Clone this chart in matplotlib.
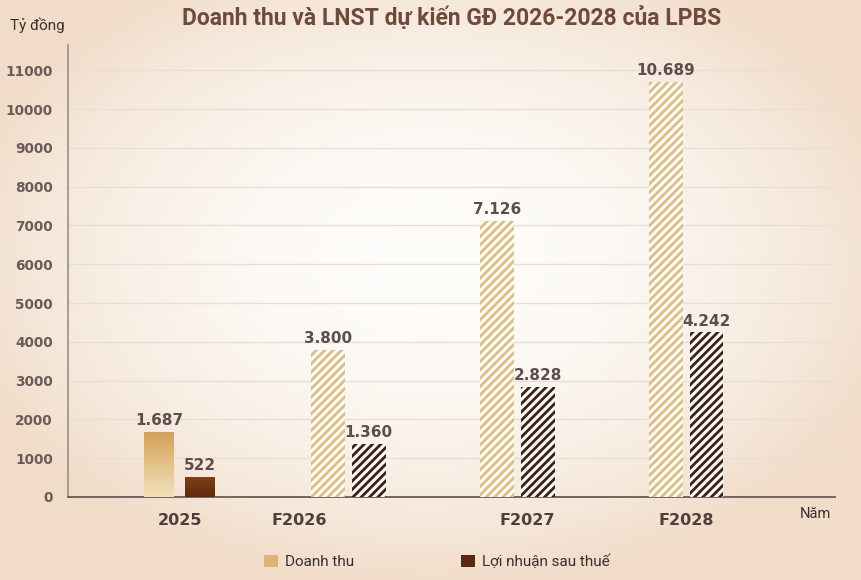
import numpy as np
import matplotlib
matplotlib.use("Agg")
import matplotlib.pyplot as plt
from matplotlib.patches import Patch
from matplotlib.colors import LinearSegmentedColormap

categories = ["2025", "F2026", "F2027", "F2028"]
doanh_thu = [1687, 3800, 7126, 10689]
lnst = [522, 1360, 2828, 4242]
forecast = [False, True, True, True]
yticks = list(range(0, 11001, 1000))
series_names = ["Doanh thu", "Lợi nhuận sau thuế"]

def fmt(v):
    return f"{v:,}".replace(",", ".")

plt.rcParams['font.family'] = ['DejaVu Sans']
plt.rcParams['hatch.linewidth'] = 2.0

fig = plt.figure(figsize=(8.61, 5.8), dpi=100)

# background gradient
bg = fig.add_axes([0, 0, 1, 1], zorder=-10)
bg.set_axis_off()
ny, nx = 290, 430
yy, xx = np.mgrid[0:1:ny*1j, 0:1:nx*1j]
d = np.sqrt(((xx - 0.5) / 0.8) ** 2 + ((yy - 0.45) / 0.8) ** 2)
d = np.clip(d / 0.7, 0, 1) ** 2.0
c_in = np.array([0.995, 0.99, 0.98])
c_out = np.array([0.945, 0.865, 0.79])
img = c_in[None, None, :] * (1 - d[..., None]) + c_out[None, None, :] * d[..., None]
bg.imshow(img, extent=[0, 1, 0, 1], aspect='auto', origin='upper')
bg.set_xlim(0, 1); bg.set_ylim(0, 1)

ax = fig.add_axes([68/861, 1 - 497/580, (835-68)/861, (497-45)/580])
ax.patch.set_alpha(0)
x = np.arange(len(categories))
w = 0.2
off = 0.12

for s in ['top', 'right']:
    ax.spines[s].set_visible(False)
ax.spines['left'].set_color('#9a8e88')
ax.spines['left'].set_linewidth(1.2)
ax.spines['bottom'].set_color('#6a5a55')
ax.spines['bottom'].set_linewidth(1.3)
ax.set_yticks(yticks)
ax.set_yticklabels([str(t) for t in yticks], fontsize=9.8, fontweight='bold', color='#6a5a58')
ax.tick_params(axis='y', length=0, pad=11)
for t in yticks[1:]:
    ax.axhline(t, color='#e6dfd9', lw=1.0, zorder=0)

cm_dt = LinearSegmentedColormap.from_list('dt', ['#f4e2bb', '#d3a05a'])
cm_ln = LinearSegmentedColormap.from_list('ln', ['#5e2a0c', '#7e4216'])

for i in range(len(categories)):
    for j, (vals, col_h, cmap) in enumerate([(doanh_thu, '#d9be86', cm_dt), (lnst, '#3a2218', cm_ln)]):
        xc = x[i] + (-off if j == 0 else off)
        v = vals[i]
        if forecast[i]:
            b = ax.bar(xc, v, w, color='#fdfaf6', edgecolor=col_h, hatch='////', linewidth=0, zorder=3)
        else:
            b = ax.bar(xc, v, w * 0.88, color='none', linewidth=0, zorder=3)
            grad = np.linspace(0, 1, 100).reshape(-1, 1)
            im = ax.imshow(grad, cmap=cmap, extent=[xc - w/2, xc + w/2, 0, v], origin='lower',
                           aspect='auto', zorder=3)
            im.set_clip_path(b.patches[0])
        ax.text(xc, v + 100, fmt(v), ha='center', va='bottom', fontsize=11, fontweight='bold',
                color='#5c4e4c', zorder=5)

ax.set_xlim(-0.66, 3.88)
ax.set_ylim(0, 11650)
ax.set_xticks([])
label_pos = [0.0, 0.71, 2.06, 3.0]
for p, c in zip(label_pos, categories):
    ax.text(p, -600, c, ha='center', va='center', fontsize=11.5, fontweight='bold', color='#4e3e3c')

fig.text(452/861, 1 - 18/580, "Doanh thu và LNST dự kiến GĐ 2026-2028 của LPBS", ha='center', va='center',
         fontsize=16.5, fontweight='bold', color='#6e4a3c', family=['Roboto', 'DejaVu Sans'])
fig.text(10/861, 1 - 25/580, "Tỷ đồng", ha='left', va='center', fontsize=11, color='#3a2e2c',
         family=['Roboto', 'DejaVu Sans'])
fig.text(800/861, 1 - 514/580, "Năm", ha='left', va='center', fontsize=10.5, color='#3a2e2c',
         family=['Roboto', 'DejaVu Sans'])

handles = [Patch(facecolor='#dbb575', edgecolor='none'), Patch(facecolor='#5a2810', edgecolor='none')]
fig.legend(handles, series_names, loc='center', bbox_to_anchor=(437/861, 1 - 562/580), ncol=2,
           frameon=False, handlelength=0.9, handleheight=0.9, handletextpad=0.45,
           columnspacing=7.0, prop={'family': ['Roboto', 'DejaVu Sans'], 'size': 11})
for t in fig.legends[0].get_texts():
    t.set_color('#3a2e2c')

fig.savefig("out.png", dpi=100)
